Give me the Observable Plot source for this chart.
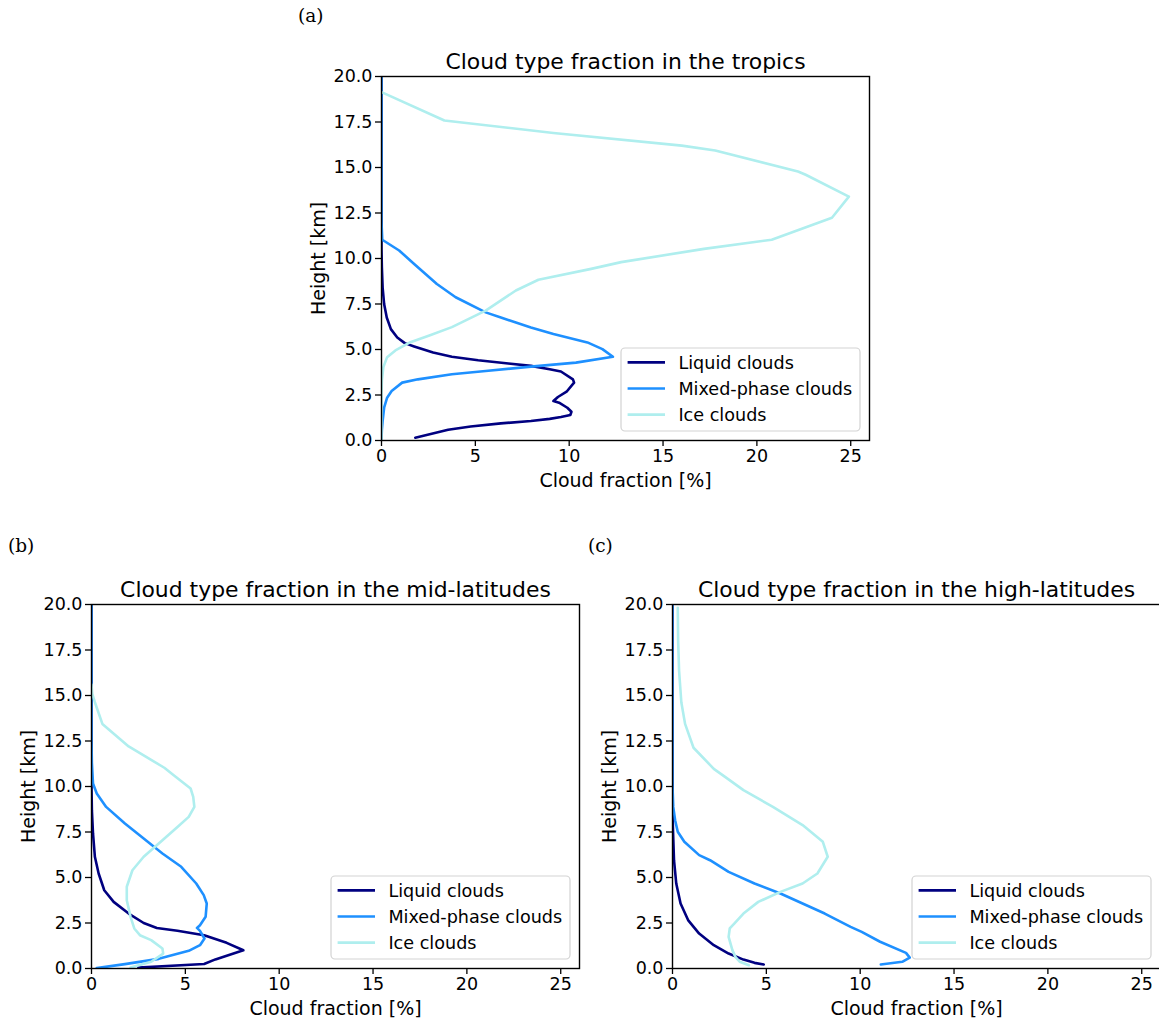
<!DOCTYPE html>
<html>
<head>
<meta charset="utf-8">
<script src="https://cdn.jsdelivr.net/npm/d3@7"></script>
<script src="https://cdn.jsdelivr.net/npm/@observablehq/plot@0.6"></script>
<style>
  html, body { margin: 0; padding: 0; background: #fff; overflow: hidden; }
  #fig { position: relative; width: 1159px; height: 1020px; overflow: hidden; }
  .panel { position: absolute; }
  .panel svg { max-width: none !important; }
  .tag { position: absolute; font-family: "DejaVu Serif", serif; font-size: 18.5px; line-height: 1; color: #000; }
</style>
</head>
<body>
<div id="fig"></div>
<script>
// Vertical profiles of cloud-type fraction: [cloud fraction %, height km]
const tropicsLiquid = [[1.8,0.15],[3.55,0.59],[4.75,0.77],[6.36,0.94],[7.96,1.07],[8.96,1.19],[9.56,1.29],[10.06,1.40],[10.12,1.58],[9.9,1.80],[9.46,2.08],[9.16,2.17],[9.4,2.39],[9.86,2.68],[10.26,3.18],[10.2,3.36],[9.56,3.79],[8.96,3.92],[7.96,4.10],[6.76,4.23],[5.15,4.41],[3.75,4.60],[2.75,4.83],[1.74,5.17],[1.24,5.35],[0.84,5.66],[0.5,6.12],[0.28,6.76],[0.14,7.5],[0.06,8.4],[0.02,9.5],[0,10.5],[0,20]];
const tropicsMixed = [[0,0],[0.02,0.6],[0.06,1.07],[0.14,1.8],[0.3,2.35],[0.54,2.72],[1.1,3.18],[1.94,3.36],[3.75,3.64],[5.55,3.82],[7.96,4.06],[10.36,4.28],[12.33,4.60],[11.77,5.02],[10.97,5.39],[9.16,5.85],[7.96,6.21],[6.36,6.76],[5.55,7.04],[3.95,7.87],[2.95,8.6],[1.74,9.7],[0.94,10.44],[0.04,11.03],[0,12],[0,20]];
const tropicsIce = [[0,0],[0,2.5],[0.02,3.3],[0.1,4.03],[0.3,4.58],[0.74,4.95],[1.54,5.4],[2.55,5.77],[3.75,6.23],[5.55,7.14],[7.16,8.24],[8.36,8.83],[11.17,9.43],[12.77,9.8],[17.18,10.53],[20.79,11.03],[24.0,12.24],[24.9,13.4],[22.6,14.6],[22.19,14.78],[17.78,15.93],[16.0,16.2],[9.16,16.9],[3.35,17.58],[0,19.14]];

const midLiquid = [[2.5,0.05],[6.0,0.25],[6.6,0.5],[8.09,1.0],[7.2,1.41],[6.0,1.83],[4.58,2.07],[3.48,2.23],[2.78,2.5],[1.98,3.02],[1.18,3.66],[0.68,4.3],[0.38,5.22],[0.18,6.14],[0.08,7.42],[0.02,8.7],[0,10],[0,20]];
const midMixed = [[0.28,0.02],[1.78,0.24],[3.58,0.53],[5.18,0.97],[5.78,1.28],[6.02,1.65],[5.78,2.07],[5.62,2.23],[5.78,2.38],[6.08,2.84],[6.14,3.57],[5.98,4.03],[5.58,4.67],[4.78,5.59],[3.78,6.32],[2.78,7.14],[1.78,7.97],[0.78,8.88],[0.28,9.62],[0.08,10.16],[0.02,11.3],[0,12.5],[0,20]];
const midIce = [[2.08,0.05],[3.18,0.37],[3.82,0.82],[3.78,1.1],[3.18,1.56],[2.58,1.83],[2.28,2.2],[2.08,2.84],[1.88,3.75],[1.88,4.49],[2.18,5.4],[2.78,6.14],[3.78,7.05],[4.58,7.78],[5.18,8.33],[5.48,8.88],[5.42,9.43],[5.28,9.89],[4.38,10.62],[3.88,11.03],[1.98,12.2],[0.58,13.44],[0.18,14.63],[0.04,15.09],[0,15.6]];

const highLiquid = [[4.86,0.22],[4.37,0.31],[3.78,0.49],[2.99,0.82],[2.2,1.28],[1.42,1.92],[0.83,2.66],[0.43,3.57],[0.2,4.67],[0.08,5.95],[0.02,7.78],[0,9],[0,20]];
const highMixed = [[11.1,0.22],[12.24,0.37],[12.64,0.6],[12.44,0.86],[11.06,1.47],[10.08,2.01],[9.49,2.29],[8.11,3.02],[5.75,4.12],[4.37,4.67],[2.99,5.31],[2.0,5.95],[1.42,6.23],[0.63,6.96],[0.28,7.51],[0.14,8.15],[0.04,8.88],[0,10],[0,20]];
const highIce = [[4.07,0.18],[3.58,0.37],[3.35,0.64],[3.19,1.01],[2.99,1.74],[3.05,2.2],[3.29,2.47],[3.78,3.02],[4.57,3.66],[5.75,4.21],[6.93,4.67],[7.72,5.22],[8.27,6.14],[8.01,6.96],[6.93,7.88],[5.35,8.88],[3.78,9.8],[2.8,10.53],[2.2,10.97],[1.12,12.13],[0.67,13.44],[0.47,14.63],[0.35,16.37],[0.3,18.0],[0.28,19.82]];

// Series names, colours and axis ticks
const seriesNames = ["Liquid clouds", "Mixed-phase clouds", "Ice clouds"];
const seriesColors = ["#000080", "#1e90ff", "#afeeee"];
const xTicks = [0, 5, 10, 15, 20, 25];
const yTicks = [0, 2.5, 5, 7.5, 10, 12.5, 15, 17.5, 20];
const xLabel = "Cloud fraction [%]";
const yLabel = "Height [km]";
const panelTitles = ["Cloud type fraction in the tropics", "Cloud type fraction in the mid-latitudes", "Cloud type fraction in the high-latitudes"];
const panelTags = ["(a)", "(b)", "(c)"];

const fig = document.getElementById("fig");
const FONT = "DejaVu Sans";

function drawPanel(title, profiles, left, top) {
  const W = 488, H = 364, mL = 90, mT = 50, mR = 10, mB = 60;
  const svg = Plot.plot({
    width: mL + W + mR,
    height: mT + H + mB,
    marginLeft: mL, marginTop: mT, marginRight: mR, marginBottom: mB,
    style: {fontFamily: FONT, fontSize: "17.5px", color: "#000", background: "transparent", overflow: "visible", maxWidth: "none"},
    x: {domain: [0, 26]},
    y: {domain: [0, 20]},
    marks: [
      ...profiles.map((p, i) => Plot.line(p, {stroke: seriesColors[i], strokeWidth: 2.6, clip: true})),
      Plot.frame({stroke: "#000", strokeWidth: 1.4}),
      Plot.axisX({ticks: xTicks, tickFormat: d3.format("d"), tickSize: 6, tickPadding: 3, strokeWidth: 1.3, label: null, fontSize: 17.5}),
      Plot.axisY({ticks: yTicks, tickFormat: d3.format(".1f"), tickSize: 6, tickPadding: 3, strokeWidth: 1.3, label: null, fontSize: 17.5}),
      Plot.text([title], {text: d => d, frameAnchor: "top", textAnchor: "middle", dy: -15, lineAnchor: "middle", fontSize: 21.9}),
      Plot.text([xLabel], {text: d => d, frameAnchor: "bottom", textAnchor: "middle", dy: 40, lineAnchor: "middle", fontSize: 19}),
      Plot.text([yLabel], {text: d => d, frameAnchor: "left", textAnchor: "middle", dx: -63, rotate: -90, lineAnchor: "middle", fontSize: 19})
    ]
  });
  svg.style.maxWidth = "none";

  // Legend box in the lower-right corner of the frame
  const bw = 239, bh = 83;
  const x0 = mL + W - 9 - bw, y0 = mT + H - 9 - bh;
  const g = d3.select(svg).append("g")
    .attr("font-family", FONT).attr("font-size", 17.6).attr("text-anchor", "start");
  g.append("rect").attr("x", x0).attr("y", y0).attr("width", bw).attr("height", bh)
    .attr("rx", 4).attr("fill", "#fff").attr("fill-opacity", 0.8)
    .attr("stroke", "#d3d3d3").attr("stroke-width", 1.2);
  seriesNames.forEach((name, i) => {
    const yy = y0 + 14.4 + i * 26.1;
    g.append("line").attr("x1", x0 + 6.6).attr("x2", x0 + 44).attr("y1", yy).attr("y2", yy)
      .attr("stroke", seriesColors[i]).attr("stroke-width", 2.6);
    g.append("text").attr("x", x0 + 57.4).attr("y", yy).attr("dy", "0.35em")
      .attr("text-anchor", "start").attr("fill", "#000").text(name);
  });

  const div = document.createElement("div");
  div.className = "panel";
  div.style.left = left + "px";
  div.style.top = top + "px";
  div.style.width = (mL + W + mR) + "px";
  div.appendChild(svg);
  fig.appendChild(div);
}

function drawTag(text, left, top) {
  const s = document.createElement("div");
  s.className = "tag";
  s.style.left = left + "px";
  s.style.top = top + "px";
  s.textContent = text;
  fig.appendChild(s);
}

drawPanel(panelTitles[0], [tropicsLiquid, tropicsMixed, tropicsIce], 291, 26);
drawPanel(panelTitles[1], [midLiquid, midMixed, midIce], 1, 554);
drawPanel(panelTitles[2], [highLiquid, highMixed, highIce], 582, 554);

drawTag(panelTags[0], 298, 7);
drawTag(panelTags[1], 8, 537);
drawTag(panelTags[2], 588, 537);
</script>
</body>
</html>
